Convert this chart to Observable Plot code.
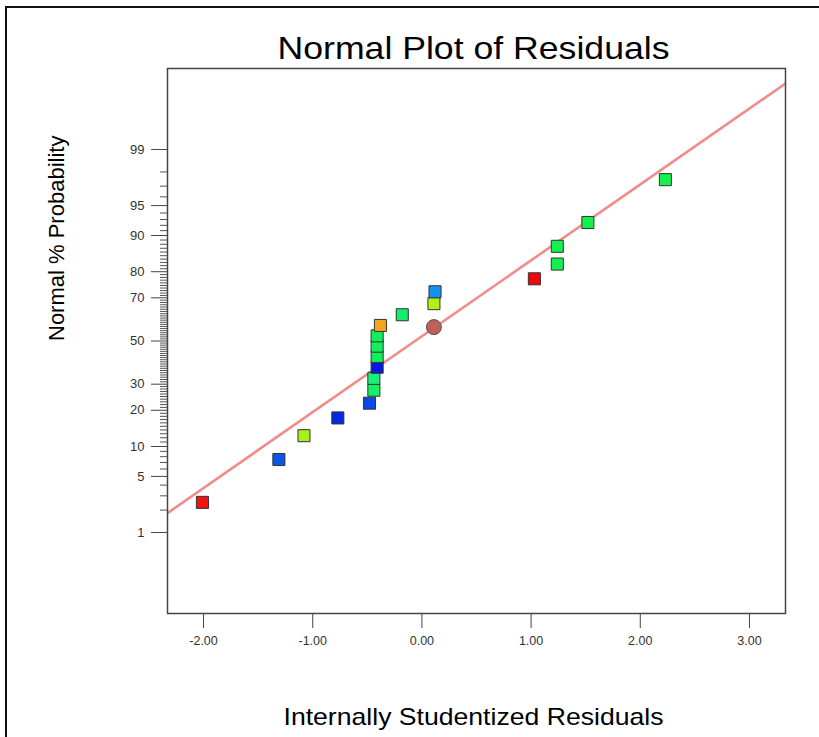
<!DOCTYPE html>
<html>
<head>
<meta charset="utf-8">
<script src="https://cdn.jsdelivr.net/npm/d3@7"></script>
<script src="https://cdn.jsdelivr.net/npm/@observablehq/plot@0.6"></script>
<style>
  html, body { margin: 0; padding: 0; background: #fff; }
  #wrap { position: relative; width: 819px; height: 737px; overflow: hidden; }
  #outer { position: absolute; left: 5px; top: 6px; width: 840px; height: 780px; border: 2px solid #111; box-sizing: border-box; }
  #chart { position: absolute; left: 0; top: 0; }
</style>
</head>
<body>
<div id="wrap">
  <div id="outer"></div>
  <div id="chart"></div>
</div>
<script>
// ---- Data ----
const titleText = "Normal Plot of Residuals";
const xLabelText = "Internally Studentized Residuals";
const yLabelText = "Normal % Probability";

// Internally studentized residuals (x) and normal % probability (y) of the runs
const residuals = [-2.01, -1.31, -1.08, -0.77, -0.48, -0.44, -0.44, -0.41, -0.41, -0.41,
                   -0.41, -0.38, -0.18, 0.11, 0.12, 1.03, 1.24, 1.24, 1.52, 2.23];
const probabilities = [2.5, 7.5, 12.5, 17.5, 22.5, 27.5, 32.5, 37.5, 42.5, 47.5,
                       52.5, 57.5, 62.5, 67.5, 72.5, 77.5, 82.5, 87.5, 92.5, 97.5];
const pointColors = ["#f21212", "#0c55e8", "#a8f01a", "#0628e0", "#0a48e8", "#14f064", "#18f07a", "#0818e0", "#12ee5c", "#12ee5c",
                     "#12ee5c", "#f2a61e", "#14ee70", "#b2f01a", "#1490f0", "#f00808", "#14f050", "#14f050", "#14f050", "#14f050"];

// highlighted (circle) point
const circleResidual = [0.11];
const circleProbability = [56.7];

// fitted normal line endpoints
const lineResiduals = [-2.33, 3.33];
const lineProbabilities = [1.83, 99.912];

// axis ticks
const xTicks = [-2, -1, 0, 1, 2, 3];
const xTickLabels = ["-2.00", "-1.00", "0.00", "1.00", "2.00", "3.00"];
const yMajorTicks = [1, 5, 10, 20, 30, 50, 70, 80, 90, 95, 99];
const yTickLabels = ["1", "5", "10", "20", "30", "50", "70", "80", "90", "95", "99"];
const yMinorTicks = d3.range(2, 99).filter(v => !yMajorTicks.includes(v));

// ---- inverse normal CDF (Acklam) ----
function qnorm(p) {
  const a=[-3.969683028665376e+01,2.209460984245205e+02,-2.759285104469687e+02,1.383577518672690e+02,-3.066479806614716e+01,2.506628277459239e+00];
  const b=[-5.447609879822406e+01,1.615858368580409e+02,-1.556989798598866e+02,6.680131188771972e+01,-1.328068155288572e+01];
  const c=[-7.784894002430293e-03,-3.223964580411365e-01,-2.400758277161838e+00,-2.549732539343734e+00,4.374664141464968e+00,2.938163982698783e+00];
  const d=[7.784695709041462e-03,3.224671290700398e-01,2.445134137142996e+00,3.754408661907416e+00];
  const pl = 0.02425, ph = 1 - pl;
  let q, r;
  if (p < pl) {
    q = Math.sqrt(-2 * Math.log(p));
    return (((((c[0]*q+c[1])*q+c[2])*q+c[3])*q+c[4])*q+c[5]) / ((((d[0]*q+d[1])*q+d[2])*q+d[3])*q+1);
  }
  if (p <= ph) {
    q = p - 0.5; r = q * q;
    return (((((a[0]*r+a[1])*r+a[2])*r+a[3])*r+a[4])*r+a[5])*q / (((((b[0]*r+b[1])*r+b[2])*r+b[3])*r+b[4])*r+1);
  }
  q = Math.sqrt(-2 * Math.log(1 - p));
  return -(((((c[0]*q+c[1])*q+c[2])*q+c[3])*q+c[4])*q+c[5]) / ((((d[0]*q+d[1])*q+d[2])*q+d[3])*q+1);
}
const z = pct => qnorm(pct / 100);

const points = residuals.map((r, i) => ({ r, p: probabilities[i], color: pointColors[i] }));
const circlePts = circleResidual.map((r, i) => ({ r, p: circleProbability[i] }));
const linePts = lineResiduals.map((r, i) => ({ r, p: lineProbabilities[i] }));
const xTickData = xTicks.map((v, i) => ({ v, label: xTickLabels[i] }));
const yTickData = yMajorTicks.map((v, i) => ({ z: z(v), label: yTickLabels[i] }));

const majorZ = yMajorTicks.map(z);
const minorZ = yMinorTicks.map(z);

const chart = Plot.plot({
  width: 819,
  height: 737,
  marginLeft: 167,
  marginRight: 34,
  marginTop: 68,
  marginBottom: 124,
  style: { fontFamily: "'Liberation Sans', Arial, sans-serif", fontSize: "11px", color: "#333", background: "transparent" },
  x: { domain: [-2.33, 3.33] },
  y: { domain: [-3.31, 3.31] },
  color: { type: "identity" },
  marks: [
    Plot.line(linePts, { x: "r", y: d => z(d.p), stroke: "#f08c8c", strokeWidth: 2.6, clip: true }),
    Plot.frame({ stroke: "#444", strokeWidth: 1.5 }),
    Plot.axisX(xTicks, { tickSize: 15, tickFormat: () => "", label: null, stroke: "#444" }),
    Plot.axisY(majorZ, { tickSize: 16, tickFormat: () => "", label: null, stroke: "#444" }),
    Plot.axisY(minorZ, { tickSize: 7, tickFormat: () => "", label: null, stroke: "#555" }),
    Plot.text(xTickData, { x: "v", text: "label", frameAnchor: "bottom", dy: 27, lineAnchor: "middle", fontSize: 12.5, fill: "#333" }),
    Plot.text(yTickData, { y: "z", text: "label", frameAnchor: "left", dx: -23, textAnchor: "end", lineAnchor: "middle", fontSize: 13, fill: "#333" }),
    Plot.dot(points, { x: "r", y: d => z(d.p), symbol: "square", r: 6.8, fill: "color", stroke: "#333", strokeWidth: 1 }),
    Plot.dot(circlePts, { x: "r", y: d => z(d.p), r: 7.5, fill: "#bf5f5a", stroke: "#555", strokeWidth: 1 }),
    Plot.text([titleText], { frameAnchor: "top", text: d => d, dx: -3, dy: -20, lineAnchor: "middle", fontSize: 32, fill: "#000" }),
    Plot.text([xLabelText], { frameAnchor: "bottom", text: d => d, dx: -3, dy: 104, lineAnchor: "middle", fontSize: 24, fill: "#000" }),
    Plot.text([yLabelText], { frameAnchor: "left", text: d => d, dx: -111, dy: 0, rotate: -90, lineAnchor: "middle", fontSize: 22, fill: "#000" })
  ]
});

document.getElementById("chart").appendChild(chart);

// the reference's lettering is slightly wide; match its measured lengths
const stretch = { [titleText]: 392, [xLabelText]: 380 };
chart.querySelectorAll("text").forEach(t => {
  const L = stretch[t.textContent];
  if (L) { t.setAttribute("textLength", L); t.setAttribute("lengthAdjust", "spacingAndGlyphs"); }
});
</script>
</body>
</html>
